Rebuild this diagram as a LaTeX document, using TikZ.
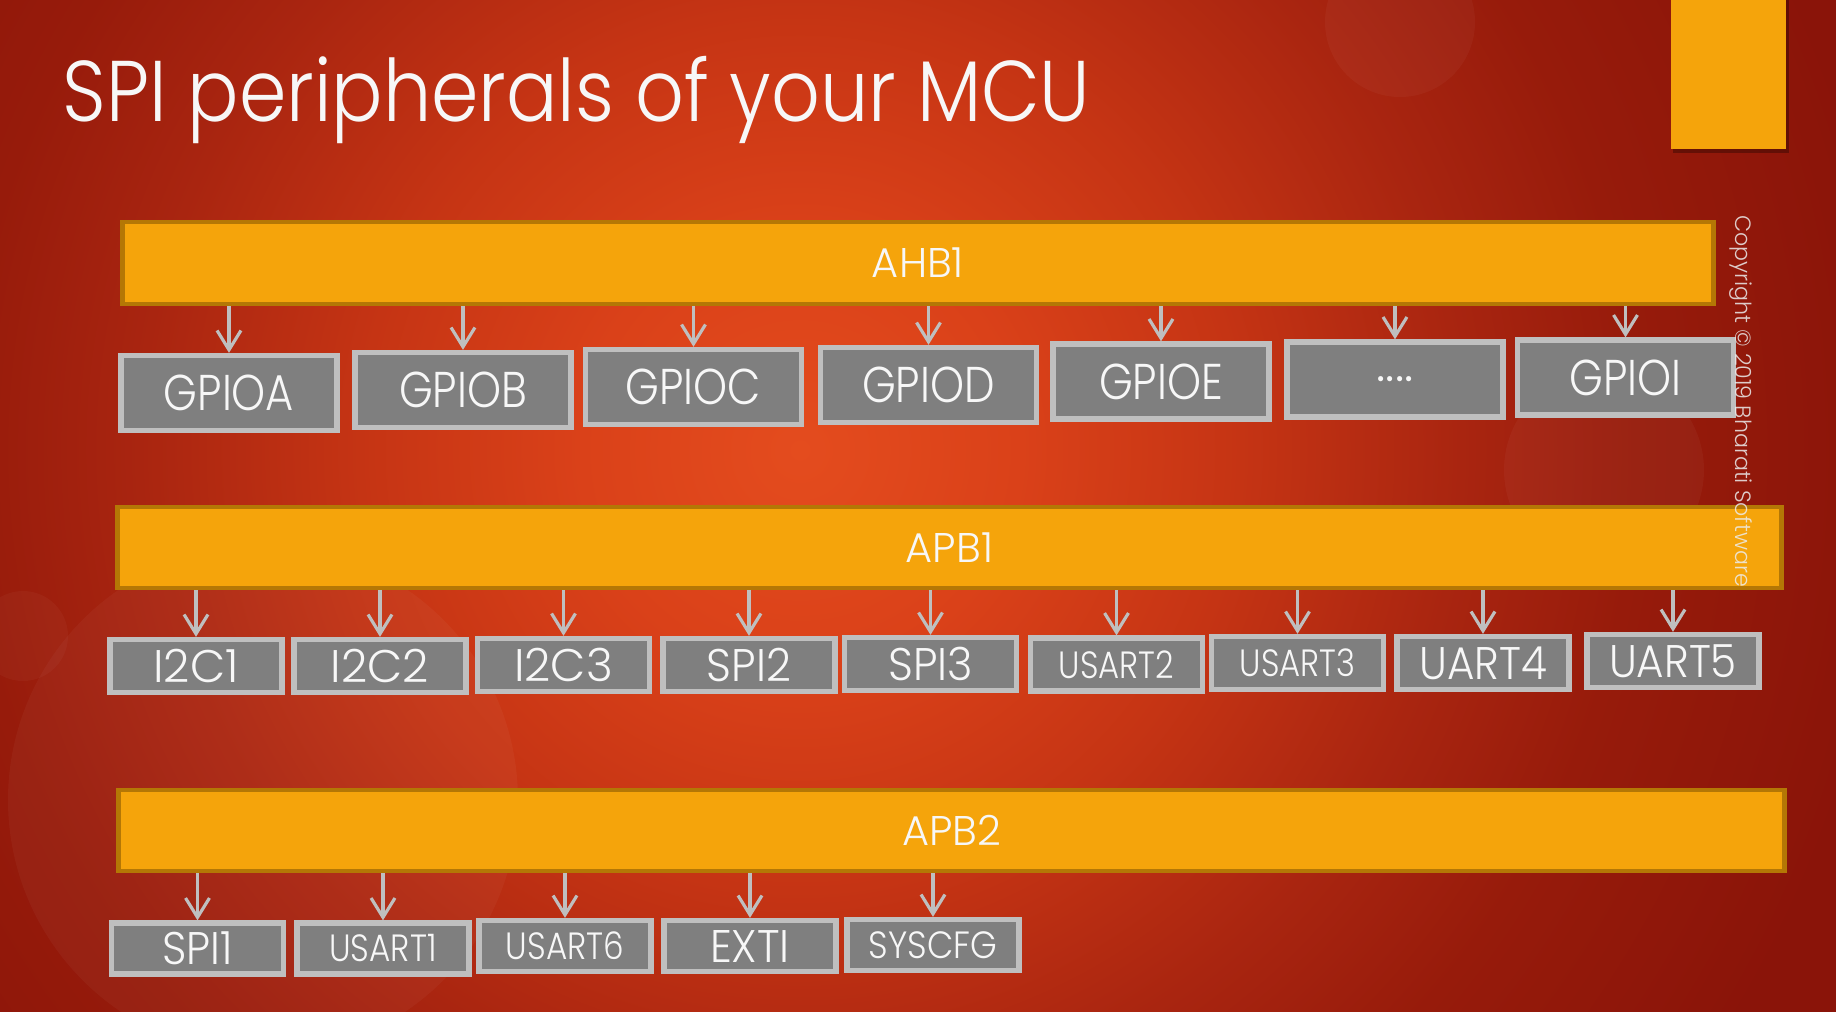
\documentclass[tikz,border=0pt]{standalone}
\usepackage{graphicx}
\usepackage{fontspec}
\setmainfont{Poppins}[UprightFont=* Light]
\usetikzlibrary{arrows.meta}

\definecolor{barfill}{HTML}{F5A40B}
\definecolor{barline}{HTML}{B47705}
\definecolor{boxfill}{HTML}{7F7F7F}
\definecolor{boxline}{HTML}{BFBFBF}
\definecolor{labelc}{HTML}{F7F7F7}
\definecolor{bgedge}{HTML}{8A1409}

% horizontally narrowed text
\newcommand\squeeze[2]{\scalebox{#1}[1]{#2}}

% warm glow of the slide background (25bp = rim of the shaded circle)
\pgfdeclareradialshading{slideglow}{\pgfpoint{0bp}{0bp}}{%
  rgb(0bp)=(0.894,0.298,0.118);
  rgb(5bp)=(0.855,0.255,0.098);
  rgb(10bp)=(0.773,0.204,0.078);
  rgb(15bp)=(0.663,0.145,0.063);
  rgb(19bp)=(0.592,0.106,0.043);
  rgb(25bp)=(0.541,0.078,0.035);
  rgb(50bp)=(0.541,0.078,0.035)}

\tikzset{
  bus/.style={draw=barline, fill=barfill, line width=1.4pt, text=labelc,
    inner sep=0pt, font=\fontsize{11.8}{14}\selectfont},
  per/.style={draw=boxline, fill=boxfill, line width=1.5pt, text=labelc, inner sep=0pt},
  gpio/.style={per, minimum width=2.16cm, minimum height=0.75cm,
    font=\fontsize{14.3}{16}\selectfont},
  apb/.style={per, minimum width=1.72cm, minimum height=0.53cm,
    font=\fontsize{13}{15}\selectfont},
  apbs/.style={apb, font=\fontsize{10.8}{12}\selectfont},
  link/.style={draw=boxline, line width=0.9pt,
    -{Straight Barb[length=5.5pt,width=6.8pt,line width=0.9pt]}},
}

\begin{document}
\begin{tikzpicture}[x=0.01cm, y=-0.01cm]
\useasboundingbox (0,0) rectangle (1836,1012);

% background
\begin{scope}
  \clip (0,0) rectangle (1836,1012);
  \fill[bgedge] (0,0) rectangle (1836,1012);
  \shade[shading=slideglow] (800,450) circle (1100);
  \fill[white, opacity=0.035] (263,800) circle (255);
  \fill[white, opacity=0.03] (23,636) circle (45);
  \fill[white, opacity=0.035] (1604,470) circle (100);
  \fill[white, opacity=0.035] (1400,22) circle (75);
\end{scope}

% corner tab with its drop shadow
\fill[black, opacity=0.3] (1673,0) rectangle (1789,153);
\fill[barfill] (1671,0) rectangle (1786,149);

% title
\node[anchor=base west, inner sep=0pt, text=labelc,
  font=\fontsize{24.5}{28}\selectfont] (title) at (62,121)
  {\squeeze{0.885}{SPI peripherals of your MCU}};

% buses
\node[bus, minimum width=15.9cm, minimum height=0.82cm] (ahb) at (918,263) {AHB1};
\node[bus, minimum width=16.63cm, minimum height=0.81cm] (apb1) at (949.5,547.5) {APB1};
\node[bus, minimum width=16.65cm, minimum height=0.81cm] (apb2) at (951.5,830.5) {APB2};

% AHB1 peripherals
\node[gpio] (ga) at (229,393) {\squeeze{0.86}{GPIOA}};
\node[gpio] (gb) at (463,390) {\squeeze{0.86}{GPIOB}};
\node[gpio] (gc) at (693.5,387) {\squeeze{0.86}{GPIOC}};
\node[gpio] (gd) at (928.5,385) {\squeeze{0.86}{GPIOD}};
\node[gpio] (ge) at (1161,381.5) {\squeeze{0.86}{GPIOE}};
\node[gpio] (gx) at (1395,379.5) {....};
\node[gpio] (gi) at (1625.5,377.5) {\squeeze{0.86}{GPIOI}};

% APB1 peripherals
\node[apb] (i2c1) at (196,666) {I2C1};
\node[apb] (i2c2) at (380,666) {I2C2};
\node[apb] (i2c3) at (563.5,665) {I2C3};
\node[apb] (spi2) at (749,665) {\squeeze{0.95}{SPI2}};
\node[apb] (spi3) at (930.5,664) {\squeeze{0.95}{SPI3}};
\node[apbs] (usart2) at (1116.5,664.5) {\squeeze{0.85}{USART2}};
\node[apbs] (usart3) at (1297.5,663) {\squeeze{0.85}{USART3}};
\node[apb] (uart4) at (1483,663) {\squeeze{0.92}{UART4}};
\node[apb] (uart5) at (1673,661) {\squeeze{0.92}{UART5}};

% APB2 peripherals
\node[apb, minimum height=0.51cm] (spi1) at (197.5,948.5) {\squeeze{0.93}{SPI1}};
\node[apbs, minimum height=0.51cm] (usart1) at (383,948.5) {\squeeze{0.86}{USART1}};
\node[apbs, minimum height=0.51cm] (usart6) at (565,946) {\squeeze{0.86}{USART6}};
\node[apb, minimum height=0.51cm] (exti) at (750,946) {\squeeze{0.95}{EXTI}};
\node[apbs, minimum height=0.51cm] (syscfg) at (933,945) {\squeeze{0.9}{SYSCFG}};

% bus-to-peripheral links
\foreach \p in {ga,gb,gc,gd,ge,gx,gi}
  \draw[link] (ahb.south -| \p.north) -- (\p.north);
\foreach \p in {i2c1,i2c2,i2c3,spi2,spi3,usart2,usart3,uart4,uart5}
  \draw[link] (apb1.south -| \p.north) -- (\p.north);
\foreach \p in {spi1,usart1,usart6,exti,syscfg}
  \draw[link] (apb2.south -| \p.north) -- (\p.north);

% vertical copyright line
\node[rotate=-90, inner sep=0pt, text=white!85!gray, opacity=0.85,
  font=\fontsize{6.3}{8}\selectfont] (copy) at (1741,401) {Copyright © 2019 Bharati Software};
\end{tikzpicture}
\end{document}
